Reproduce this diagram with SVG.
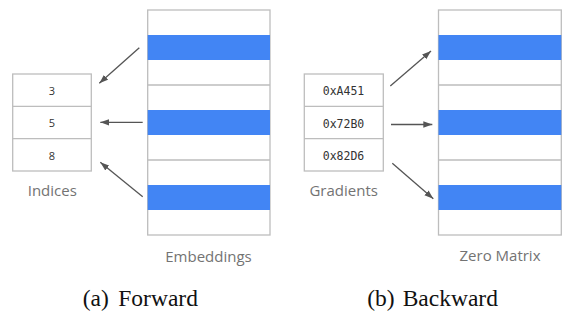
<svg xmlns="http://www.w3.org/2000/svg" width="570" height="313" viewBox="0 0 570 313">
  <style>
    .cell { fill: #ffffff; stroke: #bdbdbd; stroke-width: 1.3; }
    .hot { fill: #4285f4; stroke: none; }
    .grid { stroke: #bdbdbd; stroke-width: 1.3; fill: none; }
    .num { font-family: "Open Sans", "Noto Sans", sans-serif; font-size: 11px; fill: #333333; text-anchor: middle; }
    .hex { font-family: "DejaVu Sans Mono", "Liberation Mono", monospace; font-size: 11.5px; fill: #333333; text-anchor: middle; }
    .label { font-family: "Open Sans", "Noto Sans", sans-serif; font-size: 15px; fill: #737373; text-anchor: middle; }
    .caption { font-family: "Liberation Serif", "Times New Roman", serif; font-size: 23.5px; fill: #111111; }
    .arrow { stroke: #555555; stroke-width: 1.3; fill: none; marker-end: url(#head); }
  </style>
  <defs>
    <marker id="head" markerUnits="userSpaceOnUse" markerWidth="10" markerHeight="8" refX="9" refY="4" orient="auto">
      <path d="M0,0.8 L9,4 L0,7.2 Z" fill="#555555"/>
    </marker>
  </defs>
  <rect width="570" height="313" fill="#ffffff"/>

  <!-- (a) forward: index vector -->
  <g id="indices">
    <rect class="cell" x="12.7" y="74" width="78.6" height="97"/>
    <line class="grid" x1="12.7" y1="106.3" x2="91.3" y2="106.3"/>
    <line class="grid" x1="12.7" y1="138.6" x2="91.3" y2="138.6"/>
    <text class="num" x="52" y="95">3</text>
    <text class="num" x="52" y="127.3">5</text>
    <text class="num" x="52" y="159.6">8</text>
    <text class="label" x="52.3" y="196">Indices</text>
  </g>

  <!-- (a) forward: embedding table -->
  <g id="embeddings">
    <rect class="cell" x="147.7" y="10" width="122.3" height="225"/>
    <rect class="hot" x="147.7" y="35" width="122.3" height="25"/>
    <rect class="hot" x="147.7" y="110" width="122.3" height="25"/>
    <rect class="hot" x="147.7" y="185" width="122.3" height="25"/>
    <path class="grid" d="M147.7,85H270M147.7,160H270"/>
    <text class="label" x="208.5" y="261.5">Embeddings</text>
  </g>

  <!-- (b) backward: gradient vector -->
  <g id="gradients">
    <rect class="cell" x="304.3" y="74" width="79" height="97"/>
    <line class="grid" x1="304.3" y1="106.3" x2="383.3" y2="106.3"/>
    <line class="grid" x1="304.3" y1="138.6" x2="383.3" y2="138.6"/>
    <text class="hex" x="343.5" y="95.3">0xA451</text>
    <text class="hex" x="343.5" y="127.6">0x72B0</text>
    <text class="hex" x="343.5" y="159.9">0x82D6</text>
    <text class="label" x="343.7" y="196">Gradients</text>
  </g>

  <!-- (b) backward: zero matrix -->
  <g id="zero-matrix">
    <rect class="cell" x="438.5" y="10" width="122.8" height="225"/>
    <rect class="hot" x="438.5" y="35" width="122.8" height="25"/>
    <rect class="hot" x="438.5" y="110" width="122.8" height="25"/>
    <rect class="hot" x="438.5" y="185" width="122.8" height="25"/>
    <path class="grid" d="M438.5,85H561.3M438.5,160H561.3"/>
    <text class="label" x="500" y="261">Zero Matrix</text>
  </g>

  <!-- connectors -->
  <g id="connectors">
    <line class="arrow" x1="139.3" y1="47.7" x2="99.3" y2="83.3"/>
    <line class="arrow" x1="142.7" y1="122.3" x2="100.3" y2="122.3"/>
    <line class="arrow" x1="142.7" y1="196.7" x2="100.3" y2="162.3"/>
    <line class="arrow" x1="390.3" y1="86" x2="431" y2="51"/>
    <line class="arrow" x1="391" y1="124.5" x2="432.3" y2="124.5"/>
    <line class="arrow" x1="392.3" y1="163.3" x2="433.3" y2="198.7"/>
  </g>

  <!-- captions -->
  <g id="captions">
    <text class="caption" x="82.7" y="305.5">(a)<tspan x="118.3">Forward</tspan></text>
    <text class="caption" x="367.3" y="305.5">(b)<tspan x="402.7">Backward</tspan></text>
  </g>
</svg>
